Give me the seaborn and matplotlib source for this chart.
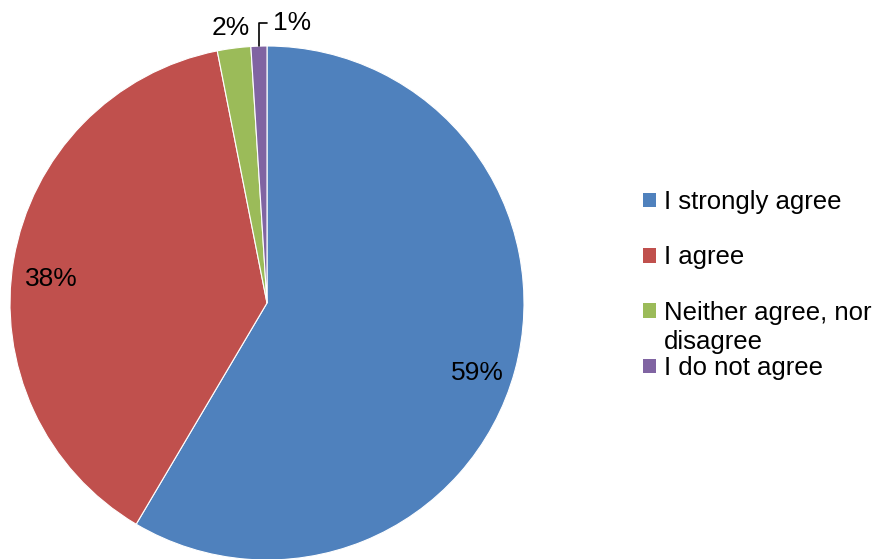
import matplotlib
matplotlib.use("Agg")
import numpy as np
import matplotlib.pyplot as plt
import matplotlib.patches as mpatches
import seaborn as sns

categories = ["I strongly agree", "I agree", "Neither agree, nor", "I do not agree"]
shares = [58.5, 38.4, 2.1, 1.0]
pct_labels = ["59%", "38%", "2%", "1%"]
colors = sns.color_palette(["#4F81BD", "#C0504D", "#9BBB59", "#8064A2"])

sns.set_theme(style="white")
plt.rcParams["font.family"] = ["Liberation Sans", "DejaVu Sans"]
plt.rcParams["text.color"] = "black"
fs_lab = 19
fs_leg = 18.5

fig = plt.figure(figsize=(8.82, 5.59), dpi=100)
W, H = 882, 559
cx, cy, r = 267, 303, 257
ax = fig.add_axes([(cx - r) / W, (H - cy - r) / H, 2 * r / W, 2 * r / H])

wedges, _ = ax.pie(shares, colors=colors, startangle=90, counterclock=False,
                   wedgeprops=dict(edgecolor="white", linewidth=0.8))
ax.set_xlim(-1, 1)
ax.set_ylim(-1, 1)
ax.set_aspect("equal")
ax.axis("off")

# percentage labels, placed from each wedge's mid angle
for i, w in enumerate(wedges):
    th = np.deg2rad((w.theta1 + w.theta2) / 2)
    x, y = np.cos(th), np.sin(th)
    if i < 2:
        ax.text(0.85 * x, 0.85 * y - 0.05, pct_labels[i], ha="center", va="center",
                fontsize=fs_lab, color="black")
    elif i == 2:
        ax.text(1.09 * x, 1.08 * y, pct_labels[i], ha="center", va="center",
                fontsize=fs_lab, color="black")
    else:
        ax.annotate(pct_labels[i], xy=(x, y), xytext=(x + 0.055, 1.09),
                    ha="left", va="center", fontsize=fs_lab, color="black",
                    annotation_clip=False,
                    arrowprops=dict(arrowstyle="-", color="black", lw=1.2,
                                    shrinkA=2, shrinkB=0,
                                    connectionstyle="angle,angleA=0,angleB=90,rad=0"))

handles = [mpatches.Patch(facecolor=c, edgecolor="none") for c in colors]
leg = fig.legend(handles, categories, loc="upper left",
                 bbox_to_anchor=(643 / W, 1 - 190 / H), frameon=False,
                 fontsize=fs_leg, handlelength=0.5, handleheight=0.5,
                 handletextpad=0.3, labelspacing=1.22, borderpad=0,
                 borderaxespad=0, labelcolor="black")
fig.canvas.draw()
ax.annotate("disagree", xy=(0, 0), xycoords=leg.texts[2], xytext=(0, -4),
            textcoords="offset points", ha="left", va="top", fontsize=fs_leg,
            color="black", annotation_clip=False)

fig.savefig("out.png", dpi=100)
